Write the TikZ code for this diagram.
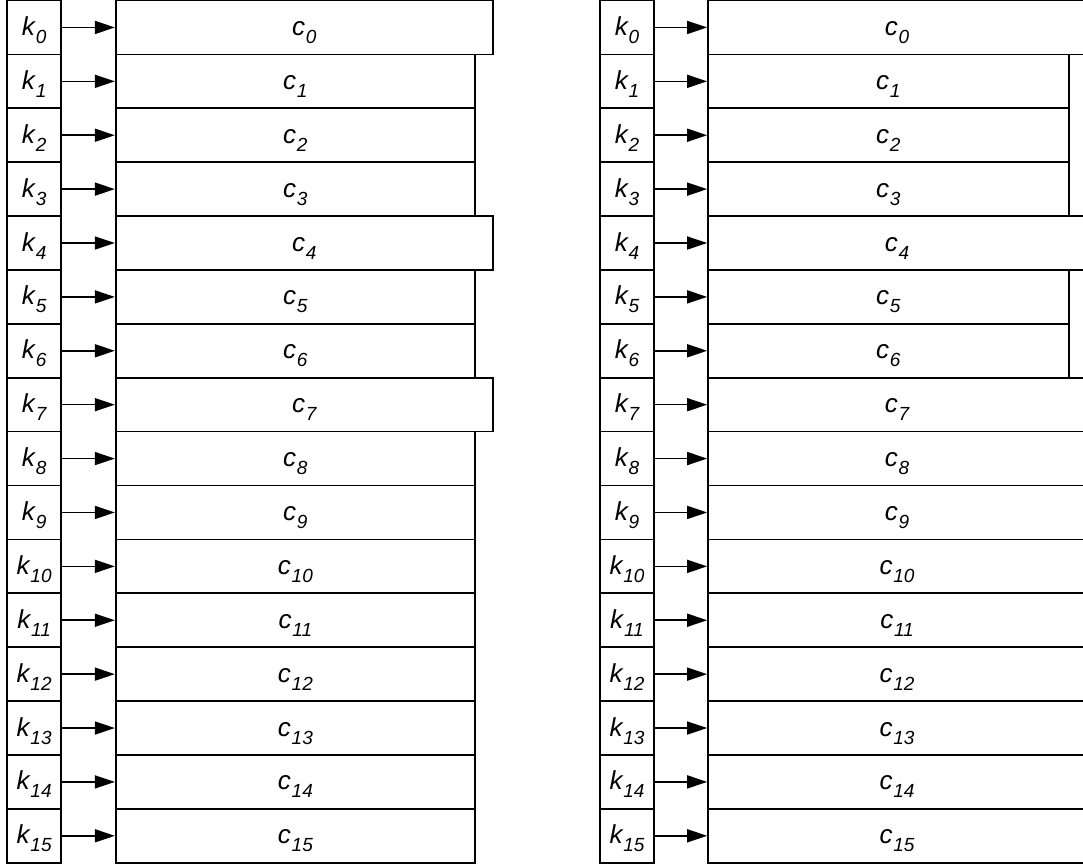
\documentclass[tikz,border=0pt]{standalone}
\usepackage{fontspec}
\setmainfont{Liberation Sans}
\usetikzlibrary{arrows.meta}
\newcommand{\lab}[2]{#1\kern0.8pt\raisebox{-8pt}{\fontsize{19}{19}\selectfont #2}}
\begin{document}
\begin{tikzpicture}[x=1pt,y=-1pt,
  box/.style={draw, line width=1.7pt, rectangle, minimum height=53.9pt, inner sep=0pt,
    text height=16pt, text depth=0pt, font=\fontsize{26}{29}\selectfont\itshape},
  kbox/.style={box, minimum width=54.3pt},
  cbox/.style={box},
  arr/.style={line width=1.6pt, -{Triangle[length=20pt,width=13pt]}}]
\useasboundingbox (0,0) rectangle (1083,865);
\clip (0,0) rectangle (1083,865);
\foreach \i/\le/\re in {0/1/1,1/0/0,2/0/0,3/0/0,4/1/1,5/0/0,6/0/0,7/1/1,8/0/1,9/0/1,10/0/1,11/0/1,12/0/1,13/0/1,14/0/1,15/0/1}{
  \pgfmathsetmacro\yc{0.5+(\i+0.5)*53.89}
  % left diagram
  \node[kbox] (kL\i) at (34.15,\yc) {\lab{k}{\i}};
  \ifnum\le=1
    \node[cbox, minimum width=377pt] (cL\i) at (304.2,\yc) {\lab{c}{\i}};
  \else
    \node[cbox, minimum width=359.3pt] (cL\i) at (295.35,\yc) {\lab{c}{\i}};
  \fi
  \draw[arr] (kL\i.east) -- (cL\i.west);
  % right diagram
  \node[kbox] (kR\i) at (627,\yc) {\lab{k}{\i}};
  \ifnum\re=1
    \node[cbox, minimum width=378pt] (cR\i) at (897,\yc) {\lab{c}{\i}};
  \else
    \node[cbox, minimum width=360.7pt] (cR\i) at (888.35,\yc) {\lab{c}{\i}};
  \fi
  \draw[arr] (kR\i.east) -- (cR\i.west);
}
\end{tikzpicture}
\end{document}
